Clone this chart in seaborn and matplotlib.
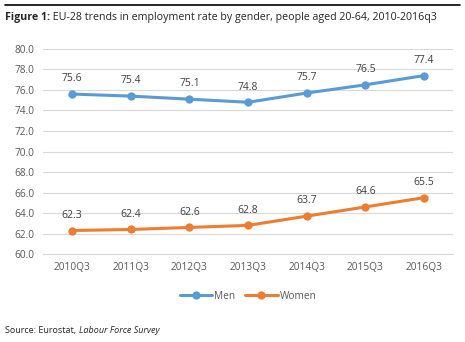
import matplotlib
matplotlib.use("Agg")
import matplotlib.pyplot as plt
import seaborn as sns
import pandas as pd

quarters = ["2010Q3", "2011Q3", "2012Q3", "2013Q3", "2014Q3", "2015Q3", "2016Q3"]
men = [75.6, 75.4, 75.1, 74.8, 75.7, 76.5, 77.4]
women = [62.3, 62.4, 62.6, 62.8, 63.7, 64.6, 65.5]
yticks = [60, 62, 64, 66, 68, 70, 72, 74, 76, 78, 80]

sns.set_theme(style="white")
plt.rcParams['font.family'] = ['Open Sans', 'DejaVu Sans']

df = pd.DataFrame({
    "quarter": quarters * 2,
    "rate": men + women,
    "gender": ["Men"] * len(men) + ["Women"] * len(women),
})
palette = {"Men": "#5B9BD5", "Women": "#ED7D31"}

fig = plt.figure(figsize=(4.65, 3.42), dpi=100)
ax = fig.add_axes([0.092, 0.257, 0.883, 0.6])
sns.lineplot(data=df, x="quarter", y="rate", hue="gender", palette=palette,
             marker="o", markersize=6, markeredgewidth=0, linewidth=2.2,
             sort=False, ax=ax, legend=True)

ax.set_ylim(60, 80)
ax.set_xlim(-0.5, 6.5)
ax.set_yticks(yticks)
ax.set_yticklabels([f"{v:.1f}" for v in yticks])
ax.yaxis.grid(True, color="#D9D9D9", linewidth=0.8)
ax.set_axisbelow(True)
for s in ["top", "right", "left"]:
    ax.spines[s].set_visible(False)
ax.spines["bottom"].set_color("#D9D9D9")
ax.spines["bottom"].set_linewidth(0.8)
ax.tick_params(axis="both", length=0, labelsize=7.3, colors="#595959", pad=6)
ax.set_xlabel("")
ax.set_ylabel("")

for i, q in enumerate(quarters):
    ax.annotate(f"{men[i]:.1f}", (i, men[i]), xytext=(0, 7), textcoords="offset points",
                ha="center", va="bottom", fontsize=7.5, color="#404040")
    ax.annotate(f"{women[i]:.1f}", (i, women[i]), xytext=(0, 7), textcoords="offset points",
                ha="center", va="bottom", fontsize=7.5, color="#404040")

leg = ax.legend(loc="upper center", bbox_to_anchor=(0.5, -0.135), ncol=2, frameon=False,
                fontsize=7.3, handlelength=3.2, columnspacing=1.0, handletextpad=0.2,
                labelcolor="#595959")

fig.add_artist(plt.Line2D([0.011, 0.989], [0.985, 0.985], color="black", linewidth=1.2))
t1 = fig.text(0.011, 0.95, "Figure 1:", fontsize=7.7, fontweight="bold", va="center", ha="left")
fig.text(0, 0, " EU-28 trends in employment rate by gender, people aged 20-64, 2010-2016q3",
         fontsize=7.7, va="center", ha="left")
fig.texts[-1].remove()
ax.annotate(" EU-28 trends in employment rate by gender, people aged 20-64, 2010-2016q3",
            xy=(1, 0.5), xycoords=t1, va="center", ha="left", fontsize=7.7,
            annotation_clip=False)
s1 = fig.text(0.011, 0.035, "Source: Eurostat, ", fontsize=6.5, va="center", ha="left")
ax.annotate("Labour Force Survey", xy=(1, 0.5), xycoords=s1, va="center", ha="left",
            fontsize=6.5, style="italic", annotation_clip=False)

fig.savefig("out.png", dpi=100, facecolor="white")
